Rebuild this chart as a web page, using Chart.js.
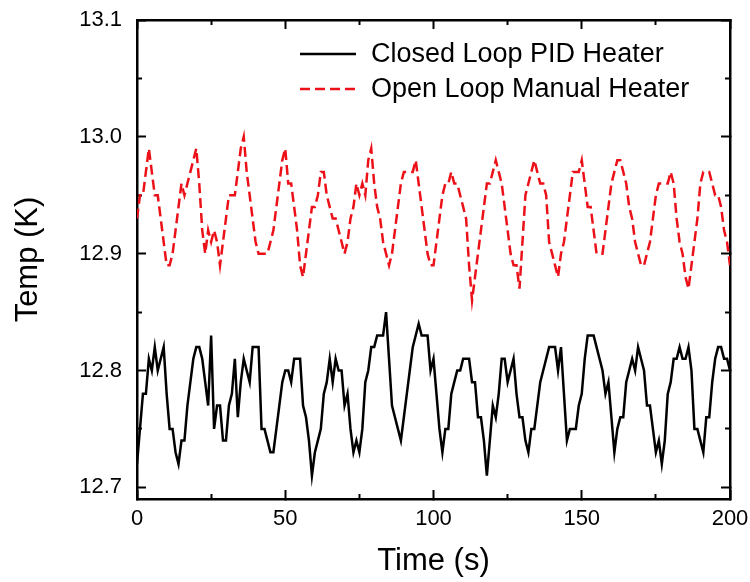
<!DOCTYPE html>
<html>
<head>
<meta charset="utf-8">
<script src="https://cdn.jsdelivr.net/npm/chart.js@4.4.1/dist/chart.umd.min.js"></script>
<style>
  html, body { margin: 0; padding: 0; background: #fff; }
  #chart { display: block; }
</style>
</head>
<body>
<canvas id="chart" width="750" height="582"></canvas>
<script>
// temperature readings, one sample per second, 0..200 s
const sampleStep = 1;
const closedLoop = [
  12.72, 12.75, 12.78, 12.78, 12.81, 12.80, 12.82, 12.80, 12.81, 12.82,
  12.78, 12.75, 12.75, 12.73, 12.72, 12.74, 12.74, 12.77, 12.79, 12.81,
  12.82, 12.82, 12.81, 12.79, 12.77, 12.83, 12.75, 12.77, 12.77, 12.74,
  12.74, 12.77, 12.78, 12.81, 12.76, 12.79, 12.81, 12.80, 12.79, 12.82,
  12.82, 12.82, 12.75, 12.75, 12.74, 12.73, 12.73, 12.75, 12.77, 12.79,
  12.80, 12.80, 12.79, 12.81, 12.81, 12.81, 12.77, 12.76, 12.74, 12.71,
  12.73, 12.74, 12.75, 12.78, 12.79, 12.81, 12.79, 12.81, 12.80, 12.80,
  12.77, 12.78, 12.75, 12.73, 12.74, 12.73, 12.75, 12.79, 12.80, 12.82,
  12.82, 12.83, 12.83, 12.83, 12.85, 12.81, 12.77, 12.76, 12.75, 12.74,
  12.76, 12.78, 12.80, 12.82, 12.83, 12.84, 12.83, 12.83, 12.83, 12.80,
  12.81, 12.78, 12.75, 12.73, 12.75, 12.75, 12.78, 12.79, 12.80, 12.80,
  12.81, 12.81, 12.81, 12.79, 12.79, 12.76, 12.76, 12.74, 12.71, 12.74,
  12.77, 12.76, 12.78, 12.81, 12.81, 12.79, 12.80, 12.81, 12.78, 12.76,
  12.76, 12.74, 12.73, 12.75, 12.75, 12.77, 12.79, 12.80, 12.81, 12.82,
  12.82, 12.82, 12.80, 12.82, 12.78, 12.74, 12.75, 12.75, 12.75, 12.77,
  12.78, 12.81, 12.83, 12.83, 12.83, 12.82, 12.81, 12.80, 12.78, 12.79,
  12.76, 12.73, 12.75, 12.76, 12.76, 12.79, 12.80, 12.81, 12.80, 12.82,
  12.81, 12.80, 12.77, 12.77, 12.75, 12.73, 12.74, 12.72, 12.74, 12.78,
  12.79, 12.81, 12.81, 12.82, 12.81, 12.81, 12.82, 12.80, 12.75, 12.75,
  12.74, 12.73, 12.76, 12.76, 12.79, 12.81, 12.82, 12.82, 12.81, 12.81,
  12.80
];
const openLoop = [
  12.93, 12.95, 12.95, 12.97, 12.99, 12.97, 12.95, 12.95, 12.93, 12.91,
  12.89, 12.89, 12.90, 12.92, 12.94, 12.96, 12.95, 12.96, 12.97, 12.98,
  12.99, 12.96, 12.92, 12.90, 12.92, 12.91, 12.92, 12.91, 12.89, 12.91,
  12.93, 12.95, 12.95, 12.95, 12.97, 12.99, 13.00, 12.97, 12.95, 12.93,
  12.91, 12.90, 12.90, 12.90, 12.90, 12.91, 12.92, 12.94, 12.96, 12.98,
  12.99, 12.96, 12.96, 12.94, 12.92, 12.89, 12.88, 12.90, 12.92, 12.94,
  12.94, 12.95, 12.97, 12.97, 12.95, 12.94, 12.93, 12.93, 12.92, 12.91,
  12.90, 12.91, 12.93, 12.94, 12.96, 12.95, 12.96, 12.95, 12.98, 12.99,
  12.96, 12.94, 12.93, 12.91, 12.90, 12.89, 12.90, 12.92, 12.94, 12.96,
  12.97, 12.97, 12.97, 12.97, 12.98, 12.96, 12.94, 12.92, 12.90, 12.89,
  12.89, 12.91, 12.93, 12.95, 12.96, 12.96, 12.97, 12.96, 12.96, 12.95,
  12.94, 12.93, 12.89, 12.86, 12.88, 12.90, 12.92, 12.94, 12.96, 12.96,
  12.97, 12.98, 12.97, 12.96, 12.94, 12.92, 12.90, 12.89, 12.89, 12.87,
  12.91, 12.95, 12.96, 12.97, 12.98, 12.97, 12.96, 12.96, 12.95, 12.91,
  12.90, 12.89, 12.88, 12.90, 12.91, 12.93, 12.95, 12.97, 12.97, 12.97,
  12.98, 12.96, 12.94, 12.94, 12.92, 12.90, 12.90, 12.90, 12.92, 12.94,
  12.96, 12.97, 12.98, 12.98, 12.97, 12.96, 12.94, 12.93, 12.91, 12.90,
  12.89, 12.89, 12.90, 12.91, 12.93, 12.95, 12.96, 12.96, 12.96, 12.96,
  12.97, 12.96, 12.93, 12.91, 12.90, 12.88, 12.87, 12.89, 12.91, 12.93,
  12.96, 12.97, 12.97, 12.97, 12.96, 12.95, 12.95, 12.94, 12.92, 12.91,
  12.89
];
const seriesNames = ['Closed Loop PID Heater', 'Open Loop Manual Heater'];
const xRange = [0, 200];
const yRange = [12.69, 13.1];
const xTicks = [0, 50, 100, 150, 200];
const xMinorTicks = [25, 75, 125, 175];
const yTicks = [12.7, 12.8, 12.9, 13.0, 13.1];
const yMinorTicks = [12.75, 12.85, 12.95, 13.05];

const FONT = "'Liberation Sans', Arial, Helvetica, sans-serif";
const toPoints = arr => arr.map((v, i) => ({ x: i * sampleStep, y: v }));
const useTicks = vals => s => { s.ticks = vals.map(v => ({ value: v })); };

// inward tick marks on every side
const tickGrid = len => ({ display: true, drawOnChartArea: false, drawTicks: true, tickLength: -len,
                           tickWidth: 2, tickColor: '#000' });
const frame = { display: true, color: '#000', width: 2.5 };

// extra axes that only carry tick marks (no labels)
function markAxis(pos, range, vals, len, box) {
  return {
    type: 'linear', position: pos, min: range[0], max: range[1], weight: 0,
    ticks: { display: false },
    afterBuildTicks: useTicks(vals),
    grid: tickGrid(len),
    border: box ? frame : { display: false },
    afterFit: s => { if (pos === 'top' || pos === 'bottom') s.height = 0; else s.width = 0; }
  };
}

// legend inside the plot, drawn from the dataset styles
const innerLegend = {
  id: 'innerLegend',
  afterDraw(chart) {
    const { ctx, chartArea } = chart;
    const x0 = chartArea.left + 163, x1 = x0 + 56;
    ctx.save();
    chart.data.datasets.forEach((ds, i) => {
      const y = chartArea.top + 34 + i * 35;
      ctx.strokeStyle = ds.borderColor;
      ctx.lineWidth = ds.borderWidth;
      ctx.setLineDash(ds.borderDash || []);
      ctx.beginPath(); ctx.moveTo(x0, y); ctx.lineTo(x1, y); ctx.stroke();
      ctx.setLineDash([]);
      ctx.fillStyle = '#000';
      ctx.font = '27px ' + FONT;
      ctx.textBaseline = 'middle';
      ctx.fillText(ds.label, x1 + 15, y + 1);
    });
    ctx.restore();
  }
};

new Chart(document.getElementById('chart'), {
  type: 'line',
  data: {
    datasets: [
      { label: seriesNames[0], data: toPoints(closedLoop), borderColor: '#000', borderWidth: 2.5,
        pointRadius: 0, tension: 0, fill: false },
      { label: seriesNames[1], data: toPoints(openLoop), borderColor: '#ec1118', borderWidth: 2.5,
        borderDash: [10, 5], pointRadius: 0, tension: 0, fill: false }
    ]
  },
  options: {
    responsive: false,
    animation: false,
    layout: { padding: { top: 20, right: 20, left: 0, bottom: 0 } },
    plugins: { legend: { display: false }, tooltip: { enabled: false } },
    scales: {
      x: {
        type: 'linear', position: 'bottom', min: xRange[0], max: xRange[1], weight: 1,
        afterBuildTicks: useTicks(xTicks),
        ticks: { color: '#000', font: { family: FONT, size: 22 }, padding: 16, maxRotation: 0, autoSkip: false },
        grid: tickGrid(9),
        border: frame,
        title: { display: true, text: 'Time (s)', color: '#000', font: { family: FONT, size: 31 }, padding: { bottom: 2 } },
        afterFit: s => { s.height = 83; s.paddingLeft = 0; s.paddingRight = 0; }
      },
      y: {
        type: 'linear', position: 'left', min: yRange[0], max: yRange[1], weight: 1,
        afterBuildTicks: useTicks(yTicks),
        ticks: { color: '#000', font: { family: FONT, size: 22 }, padding: 24, autoSkip: false,
                 callback: v => v.toFixed(1) },
        grid: tickGrid(9),
        border: frame,
        title: { display: true, text: 'Temp (K)', color: '#000', font: { family: FONT, size: 31 }, padding: { top: 10 } },
        afterFit: s => { s.width = 137; s.paddingTop = 0; s.paddingBottom = 0; }
      },
      x2: markAxis('top', xRange, xTicks, 9, true),
      y2: markAxis('right', yRange, yTicks, 9, true),
      xMinor: markAxis('bottom', xRange, xMinorTicks, 5, false),
      x2Minor: markAxis('top', xRange, xMinorTicks, 5, false),
      yMinor: markAxis('left', yRange, yMinorTicks, 5, false),
      y2Minor: markAxis('right', yRange, yMinorTicks, 5, false)
    }
  },
  plugins: [innerLegend]
});
</script>
</body>
</html>
